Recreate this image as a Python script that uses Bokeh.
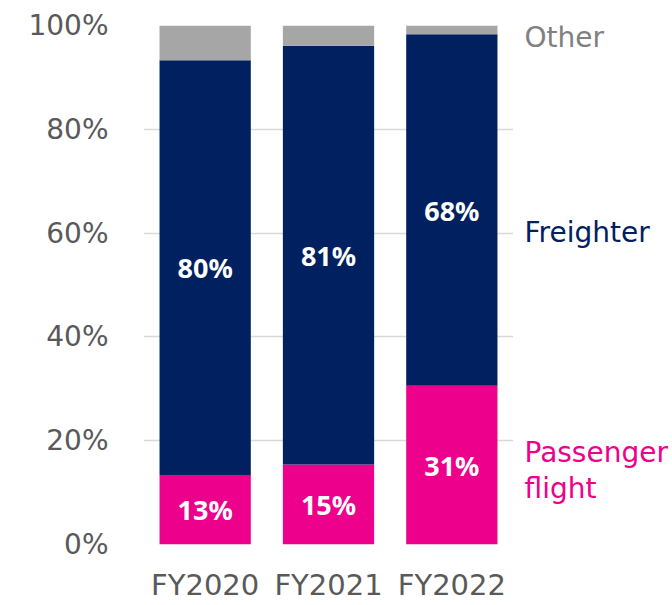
from bokeh.plotting import figure
from bokeh.layouts import row
from bokeh.models import ColumnDataSource, Label, FactorRange, Range1d, PrintfTickFormatter
from bokeh.core.properties import value
from bokeh.embed import file_html
from bokeh.resources import INLINE

years = ["FY2020", "FY2021", "FY2022"]
passenger = [13.4, 15.4, 30.6]
freighter = [79.9, 80.7, 67.7]
other = [6.7, 3.9, 1.7]
y_ticks = [0, 20, 40, 60, 80, 100]
series_names = ["Passenger", "Freighter", "Other"]

PINK = "#EC008C"
NAVY = "#002060"
GRAY = "#A6A6A6"
TXT = "#595959"

src = ColumnDataSource(dict(
    years=years, passenger=passenger, freighter=freighter, other=other,
    p_mid=[v / 2 for v in passenger],
    f_mid=[a + b / 2 for a, b in zip(passenger, freighter)],
    p_lab=[f"{round(v)}%" for v in passenger],
    f_lab=[f"{round(v)}%" for v in freighter],
))

H = 605
TOP = 25
BOTTOM = 61

p = figure(x_range=FactorRange(factors=years, range_padding=0),
           y_range=Range1d(0, 100),
           width=513, height=H, output_backend="svg", toolbar_location=None,
           min_border_left=143, min_border_right=0, min_border_top=TOP, min_border_bottom=BOTTOM)
p.outline_line_color = None
p.background_fill_color = "white"
p.border_fill_color = "white"

p.vbar_stack(["passenger", "freighter", "other"], x="years", width=0.74,
             color=[PINK, NAVY, GRAY], line_color=None, source=src)

FONT = "DejaVu Sans"
for ycol, tcol in (("p_mid", "p_lab"), ("f_mid", "f_lab")):
    p.text(x="years", y=ycol, text=tcol, source=src, text_color="white",
           text_font=value("Noto Sans"), text_font_style="bold", text_font_size="27px",
           text_align="center", text_baseline="middle")

p.xgrid.visible = False
p.ygrid.grid_line_color = "#D9D9D9"
p.ygrid.grid_line_width = 1.5

p.yaxis.ticker = y_ticks
p.yaxis.formatter = PrintfTickFormatter(format="%d%%")
p.yaxis.axis_line_color = None
p.yaxis.major_tick_line_color = None
p.yaxis.minor_tick_line_color = None
p.yaxis.major_label_standoff = 29
p.yaxis.major_label_text_font = FONT
p.yaxis.major_label_text_font_size = "28px"
p.yaxis.major_label_text_color = TXT

p.xaxis.axis_line_color = None
p.xaxis.major_tick_line_color = None
p.xaxis.minor_tick_line_color = None
p.xaxis.major_label_standoff = 17
p.xaxis.major_label_text_font = FONT
p.xaxis.major_label_text_font_size = "29px"
p.xaxis.major_label_text_color = TXT

# side panel with series names, sharing the y scale
s = figure(x_range=Range1d(0, 159), y_range=p.y_range,
           width=159, height=H, output_backend="svg", toolbar_location=None,
           x_axis_location=None, y_axis_location=None,
           min_border_left=0, min_border_right=0, min_border_top=TOP, min_border_bottom=BOTTOM)
s.outline_line_color = None
s.xgrid.visible = False
s.ygrid.visible = False

def side_label(text, y, color):
    s.add_layout(Label(x=11, y=y, text=text,
                       text_color=color, text_font=FONT, text_font_size="28px",
                       text_align="left", text_baseline="alphabetic"))

side_label(series_names[2], 97.7, "#808080")
side_label(series_names[1], 60.1, NAVY)
side_label(series_names[0], 17.8, PINK)
side_label("flight", 10.8, PINK)

layout = row(p, s, spacing=0)
open("out.html", "w").write(file_html(layout, INLINE))
